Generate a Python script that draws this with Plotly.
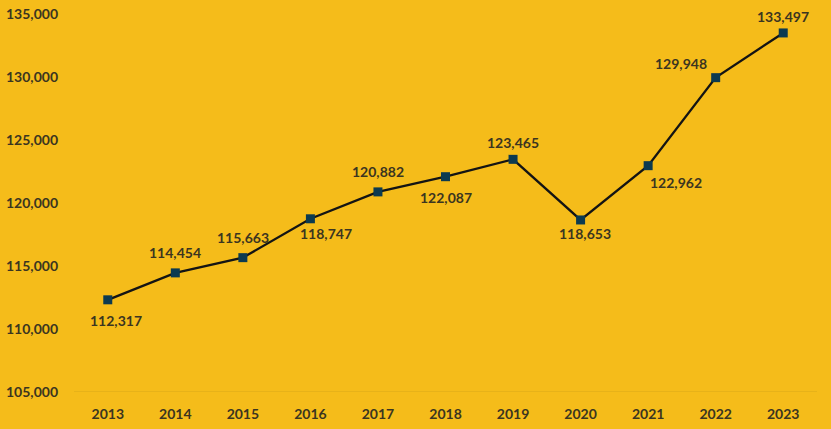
import plotly.graph_objects as go

years = ["2013", "2014", "2015", "2016", "2017", "2018", "2019", "2020", "2021", "2022", "2023"]
values = [112317, 114454, 115663, 118747, 120882, 122087, 123465, 118653, 122962, 129948, 133497]
y_ticks = [105000, 110000, 115000, 120000, 125000, 130000, 135000]

# label offsets (style)
label_dx = [8, 0, 0, 16, 0, 0, 0, 4, 28, -35, 0]
label_dy = [-21, 20, 20, -15, 20, -21, 17, -14, -17, 14, 16]

BG = "#F5BC1A"
TXT = "#3B3520"
FONT = "Lato"

fig = go.Figure()
fig.add_trace(go.Scatter(
    x=list(range(len(years))), y=values, mode="lines+markers",
    line=dict(color="#141414", width=2.3),
    marker=dict(symbol="square", size=9, color="#0C3A50"),
    hoverinfo="skip",
))

annotations = []
for i, (v, dx, dy) in enumerate(zip(values, label_dx, label_dy)):
    annotations.append(dict(x=i, y=v, xref="x", yref="y", text=f"<b>{v:,}</b>",
                            showarrow=False, xshift=dx, yshift=dy,
                            font=dict(family=FONT, size=14, color=TXT)))

fig.update_layout(
    width=831, height=429,
    margin=dict(l=74, r=14, t=14, b=37, autoexpand=False),
    paper_bgcolor=BG, plot_bgcolor=BG,
    showlegend=False,
    annotations=annotations,
    font=dict(family=FONT, size=14, color=TXT),
    xaxis=dict(range=[-0.5, 10.5], showgrid=False,
               tickvals=list(range(len(years))),
               ticktext=[f"<b>{y}</b>" for y in years],
               showline=False, zeroline=False, ticks="", ticklabelstandoff=12,
               tickfont=dict(family=FONT, size=14, color=TXT)),
    yaxis=dict(range=[105000, 135000], tickvals=y_ticks,
               ticktext=[f"<b>{t:,}</b>" for t in y_ticks],
               showgrid=False, zeroline=False, showline=False, ticks="",
               ticklabelstandoff=15,
               tickfont=dict(family=FONT, size=14, color=TXT)),
    shapes=[dict(type="line", xref="paper", yref="y", x0=0, x1=1, y0=105000, y1=105000,
                 line=dict(color="#D9A818", width=1))],
)

fig.write_html("out.html", config={"displayModeBar": False},
               post_script="document.body.style.margin='0';")
